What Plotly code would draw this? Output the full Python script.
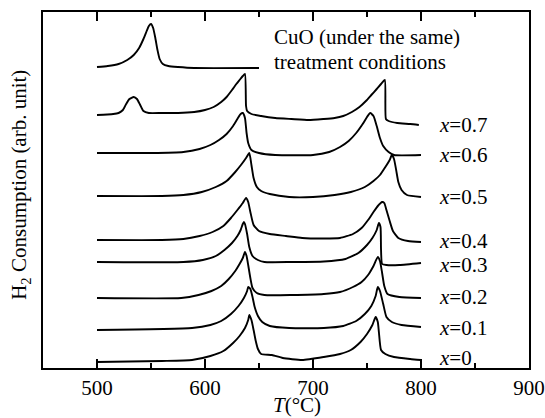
import plotly.graph_objects as go

# ---- data (T in °C, signal in arb. units incl. stacking offset) ----
T_cuo = [500, 510, 520, 528, 534, 539, 543, 546, 548, 550, 552, 554, 556, 558, 561, 566, 575, 590, 650]
S_cuo = [301, 302, 304, 308, 313, 320, 329, 337, 342, 344, 340, 330, 318, 309, 304, 302, 301, 300, 300]

T_07 = [500, 515, 520, 524, 527, 530, 534, 537, 540, 543, 548, 560, 575, 590, 600, 608, 615, 620, 625,
        629, 632, 635, 637, 638, 639, 643, 652, 665, 680, 696, 710, 720, 728, 736, 743, 749, 754, 759,
        763, 766.5, 767.5, 770, 778, 790, 798]
S_07 = [253, 254, 255, 258, 264, 269, 271, 269, 263, 257, 255, 255, 255, 256, 258, 261, 266, 271, 278,
        284, 288, 292, 294, 262, 257, 254, 252, 250, 249, 248, 249, 250, 252, 256, 261, 267, 273, 279,
        284, 288, 249, 247, 245, 244, 243]

T_06 = [500, 550, 580, 595, 605, 613, 620, 626, 630, 633, 635, 637, 638.5, 640, 643, 650, 665, 700,
        715, 725, 733, 740, 746, 750, 753, 756, 759, 762, 765, 770, 775, 800]
S_06 = [215, 215, 216, 219, 223, 228, 234, 242, 249, 254, 255, 250, 235, 225, 218, 215, 213, 213,
        216, 221, 227, 235, 244, 251, 255, 252, 242, 230, 222, 216, 213, 213]

T_05 = [500, 560, 580, 597, 610, 620, 628, 634, 638, 641, 643, 645, 648, 652, 660, 678, 700, 720, 735,
        748, 756, 762, 767, 771, 773, 775, 777, 779, 782, 787, 800]
S_05 = [172, 172, 173, 176, 181, 187, 196, 204, 210, 215, 203, 190, 181, 177, 174, 171, 171, 173, 176,
        181, 187, 193, 201, 208, 213, 209, 198, 186, 178, 173, 171]

T_04 = [500, 560, 580, 595, 607, 617, 624, 630, 635, 638, 640, 642, 645, 650, 660, 675, 690, 710, 725,
        737, 745, 751, 756, 760, 764, 766, 768, 771, 774, 779, 788, 800]
S_04 = [128, 128, 129, 132, 136, 142, 150, 158, 165, 170, 166, 156, 143, 137, 134, 132, 130, 129.5, 130,
        134, 140, 148, 156, 162, 166, 165, 158, 147, 137, 130, 127, 126]

T_03 = [500, 580, 598, 610, 618, 625, 630, 633, 635, 636, 637, 639, 641, 644, 649, 655, 680, 710, 730,
        742, 750, 755, 759, 761, 762.5, 763, 764, 768, 780, 800]
S_03 = [106, 106, 108, 112, 118, 125, 132, 138, 144, 146, 144, 134, 121, 112, 108, 106, 106, 106.5, 109,
        115, 123, 130, 138, 145, 141, 118, 104, 103, 103, 105]

T_02 = [500, 578, 594, 606, 615, 622, 628, 632, 635, 637, 638.5, 640, 642, 644, 648, 655, 680, 710, 725,
        737, 745, 751, 756, 760, 762, 764, 766, 769, 780, 800]
S_02 = [70, 70, 73, 77, 82, 89, 97, 104, 110, 116, 112, 103, 90, 80, 75, 73, 73, 74, 76,
        81, 86, 93, 102, 111, 107, 95, 82, 74, 71, 70]

T_01 = [500, 588, 605, 615, 624, 631, 636, 639, 640, 642, 644, 646, 649, 653, 660, 678, 710, 728, 740,
        748, 754, 758, 760, 762, 765, 768, 773, 782, 800]
S_01 = [38, 40, 43, 47, 54, 62, 70, 77, 81, 79, 71, 61, 52, 46, 42, 40, 40, 42, 47,
        54, 62, 72, 81, 77, 64, 51, 46, 43, 41]

T_00 = [500, 560, 588, 605, 617, 626, 632, 637, 640, 641, 643, 645, 647, 649, 652, 662, 672, 690,
        710, 725, 735, 744, 750, 755, 758, 760, 761, 763, 767, 775, 790, 800]
S_00 = [6, 7, 8, 12, 17, 25, 32, 40, 48, 53, 48, 38, 27, 19, 14, 13, 10, 8,
        11, 14, 18, 26, 34, 43, 51, 46, 36, 18, 14, 11, 9, 8]

series = [
    ("CuO", T_cuo, S_cuo), ("x=0.7", T_07, S_07), ("x=0.6", T_06, S_06), ("x=0.5", T_05, S_05),
    ("x=0.4", T_04, S_04), ("x=0.3", T_03, S_03), ("x=0.2", T_02, S_02), ("x=0.1", T_01, S_01),
    ("x=0", T_00, S_00),
]

label_texts = ["0.7", "0.6", "0.5", "0.4", "0.3", "0.2", "0.1", "0"]
label_levels = [243, 213, 171, 127, 103, 71, 40, 10]
label_T = 815

cuo_lines = ["CuO (under the same)", "treatment conditions"]
cuo_levels = [331, 306]
cuo_T = 662

FONT = "Liberation Serif, Times New Roman, serif"

fig = go.Figure()
for name, t, s in series:
    fig.add_trace(go.Scatter(x=t, y=s, mode="lines", name=name,
                             line=dict(color="black", width=1.9, shape="spline", smoothing=0.5),
                             showlegend=False))

for txt, lv in zip(label_texts, label_levels):
    fig.add_annotation(x=label_T, y=lv, xref="x", yref="y", text="<i>x</i>=" + txt,
                       showarrow=False, xanchor="left", yanchor="middle",
                       font=dict(family=FONT, size=21, color="black"))

for txt, lv in zip(cuo_lines, cuo_levels):
    fig.add_annotation(x=cuo_T, y=lv, xref="x", yref="y", text=txt,
                       showarrow=False, xanchor="left", yanchor="middle",
                       font=dict(family=FONT, size=21, color="black"))

# axis titles
fig.add_annotation(x=-0.047, y=0.515, xref="paper", yref="paper",
                   text="H<sub>2</sub> Consumption (arb. unit)", textangle=-90,
                   showarrow=False, xanchor="center", yanchor="middle",
                   font=dict(family=FONT, size=21, color="black"))
fig.add_annotation(x=0.523, y=-0.105, xref="paper", yref="paper",
                   text="<i>T</i>(°C)", showarrow=False, xanchor="center", yanchor="middle",
                   font=dict(family=FONT, size=21, color="black"))

fig.update_layout(
    width=545, height=418,
    margin=dict(l=43, r=16, t=12, b=50),
    paper_bgcolor="white", plot_bgcolor="white",
    xaxis=dict(range=[450, 900], dtick=100, tick0=500, ticks="inside", ticklen=9, tickwidth=2,
               tickcolor="black", showline=True, linewidth=2, linecolor="black", mirror="ticks",
               showgrid=False, zeroline=False, automargin=False,
               minor=dict(dtick=50, tick0=450, ticks="inside", ticklen=5, tickwidth=1.5,
                          tickcolor="black", showgrid=False),
               tickfont=dict(family=FONT, size=21, color="black")),
    yaxis=dict(range=[0, 356], showticklabels=False, ticks="", showline=True, linewidth=2,
               linecolor="black", mirror=True, showgrid=False, zeroline=False, automargin=False),
)

fig.write_html("out.html")
